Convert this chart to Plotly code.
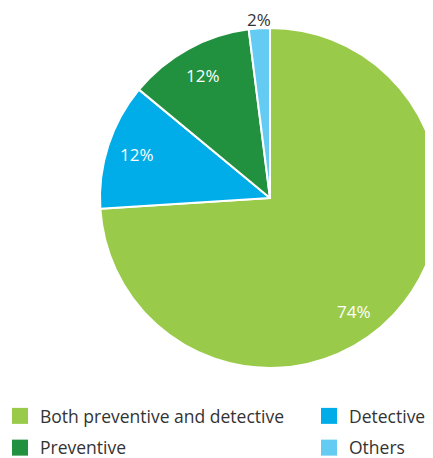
import math
import plotly.graph_objects as go

labels = ["Both preventive and detective", "Detective", "Preventive", "Others"]
values = [74, 12, 12, 2]
colors = ["#9ACA4A", "#00ADE8", "#21913F", "#64CCF3"]

W, H = 433, 458
# pie geometry (figure pixels)
CX, CY, R = 262, 190, 170
# small manual placement tweaks for percentage labels (pixels, by slice index)
LABEL_NUDGE = {0: (-18, 18), 3: (0, 4)}

fig = go.Figure()
fig.add_trace(go.Pie(
    labels=labels,
    values=values,
    sort=False,
    direction="clockwise",
    rotation=0,
    marker=dict(colors=colors, line=dict(color="white", width=2)),
    textinfo="none",
    domain=dict(x=[(CX - R) / W, (CX + R) / W], y=[(H - CY - R) / H, (H - CY + R) / H]),
    showlegend=False,
    hoverinfo="label+percent",
))

# legend entries (two columns via two legends)
for i, (lab, col) in enumerate(zip(labels, colors)):
    fig.add_trace(go.Scatter(
        x=[None], y=[None], mode="markers", name=lab,
        marker=dict(symbol="square", size=16, color=col),
        legend="legend" if i % 2 == 0 else "legend2",
        legendgroup=f"g{i}", showlegend=True, hoverinfo="skip",
    ))

# percentage labels placed at slice mid-angles
total = sum(values)
annotations = []
cum = 0
for i, v in enumerate(values):
    mid = (cum + v / 2) / total * 2 * math.pi
    cum += v
    pct = f"{round(v / total * 100)}%"
    if v / total < 0.05:
        r, color = R + 13, "#333333"
    else:
        r, color = 0.82 * R, "white"
    dx, dy = LABEL_NUDGE.get(i, (0, 0))
    px = CX + r * math.sin(mid) + dx
    py = CY - r * math.cos(mid) + dy
    annotations.append(dict(
        x=px / W, y=1 - py / H, xref="paper", yref="paper",
        text=pct, showarrow=False, xanchor="center", yanchor="middle",
        font=dict(family="Open Sans", size=17, color=color),
    ))

legend_common = dict(
    orientation="v", yanchor="top", xanchor="left",
    font=dict(family="Open Sans", size=17.5, color="#333333"),
    tracegroupgap=6, bgcolor="rgba(0,0,0,0)", indentation=-8,
)
legend_top = (H - 390) / H

fig.update_layout(
    width=W,
    height=H,
    margin=dict(l=0, r=0, t=0, b=0),
    paper_bgcolor="white",
    plot_bgcolor="white",
    font=dict(family="Open Sans", color="#333333", size=17),
    xaxis=dict(visible=False),
    yaxis=dict(visible=False),
    legend=dict(x=0, y=legend_top, **legend_common),
    legend2=dict(x=309 / W, y=legend_top, **legend_common),
    annotations=annotations,
)

fig.write_html("out.html")
